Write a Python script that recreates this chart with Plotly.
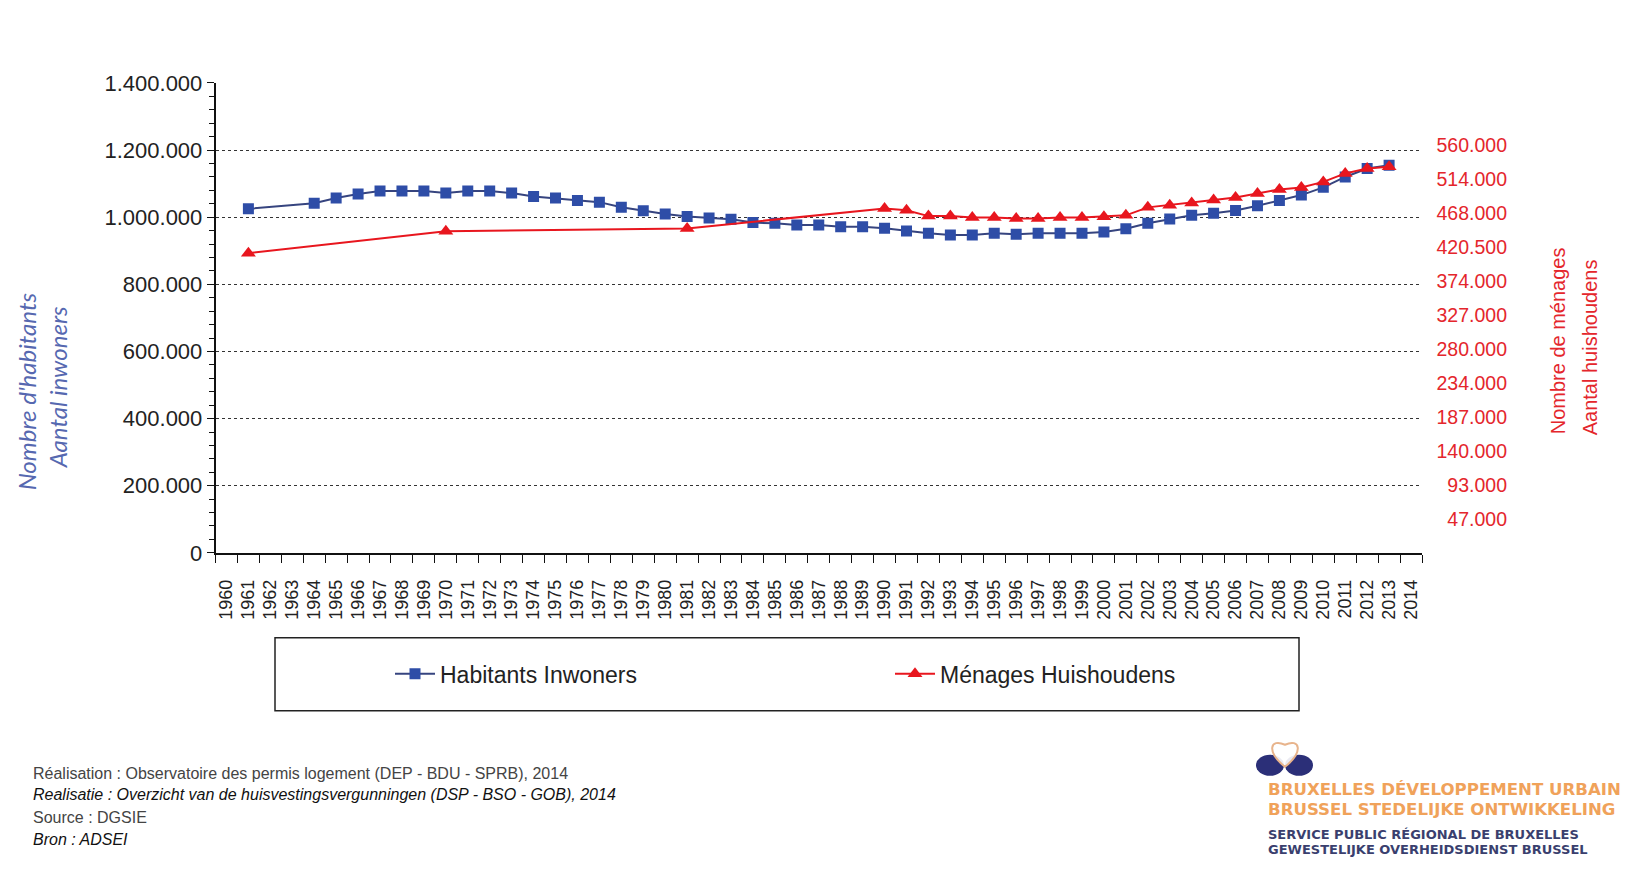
import plotly.graph_objects as go

# The figure sits inside the page body; the page photograph is compressed
# vertically a little, so page-pixel positions are converted with these factors.
OFFX, OFFY, VS = 8, 20.7, 0.970
FW, FH = 1616, 866

years = [str(y) for y in range(1960, 2015)]

hab_years = ["1961", "1964", "1965", "1966", "1967", "1968", "1969", "1970", "1971", "1972",
             "1973", "1974", "1975", "1976", "1977", "1978", "1979", "1980", "1981", "1982",
             "1983", "1984", "1985", "1986", "1987", "1988", "1989", "1990", "1991", "1992",
             "1993", "1994", "1995", "1996", "1997", "1998", "1999", "2000", "2001", "2002",
             "2003", "2004", "2005", "2006", "2007", "2008", "2009", "2010", "2011", "2012", "2013"]
hab_values = [1025000, 1042000, 1057000, 1069000, 1078000, 1078000, 1078000, 1072000, 1078000, 1078000,
              1072000, 1062000, 1057000, 1050000, 1045000, 1030000, 1019000, 1010000, 1002000, 998000,
              994000, 984000, 982000, 977000, 977000, 972000, 972000, 967000, 959000, 952000,
              947000, 947000, 952000, 949000, 952000, 952000, 952000, 956000, 966000, 982000,
              995000, 1006000, 1012000, 1020000, 1034000, 1050000, 1066000, 1089000, 1120000, 1145000, 1155000]

men_years = ["1961", "1970", "1981", "1990", "1991", "1992", "1993", "1994", "1995", "1996",
             "1997", "1998", "1999", "2000", "2001", "2002", "2003", "2004", "2005", "2006",
             "2007", "2008", "2009", "2010", "2011", "2012", "2013"]
men_values = [412000, 442000, 446000, 473500, 471000, 463000, 463000, 461000, 461000, 459700,
              459700, 461000, 461000, 462000, 464000, 475000, 478000, 481000, 485000, 488600,
              494000, 499700, 502400, 510000, 521700, 528600, 530800]

right_tickvals = [46667, 93333, 140000, 186667, 233333, 280000, 326667, 373333, 420000, 466667, 513333, 560000]
right_ticktext = ["47.000", "93.000", "140.000", "187.000", "234.000", "280.000", "327.000",
                  "374.000", "420.500", "468.000", "514.000", "560.000"]

BLUE_LINE = "#36447F"
BLUE_MK = "#2E4DA7"
RED = "#E8161E"
RED_TXT = "#E4262C"


def px(x):
    return (x - OFFX) / FW


def py(y):
    return 1 - (y / VS - OFFY) / FH


fig = go.Figure()
fig.add_trace(go.Scatter(
    x=hab_years, y=hab_values, name="Habitants Inwoners", mode="lines+markers",
    line=dict(color=BLUE_LINE, width=2),
    marker=dict(symbol="square", size=11, color=BLUE_MK, line=dict(width=0)),
    yaxis="y"))
fig.add_trace(go.Scatter(
    x=men_years, y=men_values, name="Ménages Huishoudens", mode="lines+markers",
    line=dict(color=RED, width=2),
    marker=dict(symbol="triangle-up", size=13, color=RED, line=dict(width=0)),
    yaxis="y2"))

x0, x1 = 215.5, 1422
ytop, ybot = 83, 552.3

shapes = [
    dict(type="rect", xref="paper", yref="paper", x0=px(275), x1=px(1299), y0=py(710), y1=py(637),
         fillcolor="rgba(0,0,0,0)", line=dict(color="#222", width=1.5)),
    # logo
    dict(type="circle", xref="paper", yref="paper", x0=px(1256), x1=px(1284), y0=py(775), y1=py(754),
         fillcolor="#2B2F78", line=dict(width=0)),
    dict(type="circle", xref="paper", yref="paper", x0=px(1285), x1=px(1313), y0=py(775), y1=py(754),
         fillcolor="#2B2F78", line=dict(width=0)),
    dict(type="path", xref="paper", yref="paper",
         path=("M {a},{b} C {c},{d} {e},{f} {g},{h} C {i},{j} {k},{l} {a},{b} Z").format(
             a=px(1285), b=py(766), c=px(1266), d=py(751), e=px(1270), f=py(737), g=px(1285), h=py(744),
             i=px(1300), j=py(737), k=px(1304), l=py(751)),
         fillcolor="rgba(255,255,255,0.9)", line=dict(color="#E8B48C", width=2)),
]

annotations = [
    dict(text="Nombre d'habitants", x=px(26), y=py(391), xref="paper", yref="paper", textangle=-90,
         xanchor="center", yanchor="middle", showarrow=False,
         font=dict(family="Lato", size=24, color="#5668B0", style="italic")),
    dict(text="Aantal inwoners", x=px(57), y=py(387), xref="paper", yref="paper", textangle=-90,
         xanchor="center", yanchor="middle", showarrow=False,
         font=dict(family="Lato", size=24, color="#5668B0", style="italic")),
    dict(text="Nombre de ménages", x=px(1558), y=py(341), xref="paper", yref="paper", textangle=-90,
         xanchor="center", yanchor="middle", showarrow=False,
         font=dict(family="Liberation Sans", size=20, color=RED_TXT)),
    dict(text="Aantal huishoudens", x=px(1590), y=py(347), xref="paper", yref="paper", textangle=-90,
         xanchor="center", yanchor="middle", showarrow=False,
         font=dict(family="Liberation Sans", size=20, color=RED_TXT)),
]

footer = [
    ("Réalisation : Observatoire des permis logement (DEP - BDU - SPRB), 2014", 773, "#444444", "normal"),
    ("Realisatie : Overzicht van de huisvestingsvergunningen (DSP - BSO - GOB), 2014", 794, "#111111", "italic"),
    ("Source : DGSIE", 817, "#444444", "normal"),
    ("Bron : ADSEI", 839, "#111111", "italic"),
]
for txt, yy, col, st in footer:
    annotations.append(dict(text=txt, x=px(31), y=py(yy), xref="paper", yref="paper", xanchor="left",
                            yanchor="middle", showarrow=False,
                            font=dict(family="Liberation Sans", size=16, color=col, style=st)))

logo_lines = [
    ("BRUXELLES DÉVELOPPEMENT URBAIN", 789, "#F0A25A", 16.6),
    ("BRUSSEL STEDELIJKE ONTWIKKELING", 809, "#F0A25A", 16.6),
    ("SERVICE PUBLIC RÉGIONAL DE BRUXELLES", 834, "#3A3F6E", 13),
    ("GEWESTELIJKE OVERHEIDSDIENST BRUSSEL", 849, "#3A3F6E", 13),
]
for txt, yy, col, sz in logo_lines:
    annotations.append(dict(text="<b>" + txt + "</b>", x=px(1266), y=py(yy), xref="paper", yref="paper",
                            xanchor="left", yanchor="middle", showarrow=False,
                            font=dict(family="DejaVu Sans", size=sz, color=col)))

fig.update_layout(
    width=FW, height=FH, autosize=False,
    margin=dict(l=0, r=0, t=0, b=0),
    paper_bgcolor="white", plot_bgcolor="white",
    separators=",.",
    font=dict(family="Liberation Sans", color="#222"),
    xaxis=dict(
        type="category", categoryorder="array", categoryarray=years,
        range=[-0.5, len(years) - 0.5],
        domain=[px(x0), px(x1)],
        tickmode="array", tickvals=years, ticktext=years,
        tickangle=-90, tickfont=dict(size=18, color="#222"),
        tickson="boundaries", ticks="outside", ticklen=8, tickcolor="#111",
        ticklabelstandoff=18,
        showline=True, linecolor="#111", linewidth=1.5, showgrid=False,
    ),
    yaxis=dict(
        domain=[py(ybot), py(ytop)],
        range=[0, 1400000], dtick=200000, tick0=0, tickformat=",d",
        tickfont=dict(size=22, color="#222"),
        ticks="outside", ticklen=7, tickcolor="#111",
        minor=dict(dtick=40000, ticks="outside", ticklen=5, tickcolor="#111", showgrid=False),
        showline=True, linecolor="#111", linewidth=1.5,
        showgrid=True, gridcolor="#333", griddash="dot", gridwidth=1,
        zeroline=False,
    ),
    yaxis2=dict(
        overlaying="y", side="left", anchor="free", position=px(1507),
        range=[0, 646000],
        tickmode="array", tickvals=right_tickvals, ticktext=right_ticktext,
        tickfont=dict(size=19.5, color=RED_TXT),
        showgrid=False, showline=False, ticks="", zeroline=False,
    ),
    showlegend=True,
    legend=dict(orientation="h", x=px(390), y=py(673), xanchor="left", yanchor="middle",
                font=dict(size=23, color="#222"), bgcolor="rgba(0,0,0,0)",
                entrywidth=445, entrywidthmode="pixels", itemwidth=40),
    shapes=shapes,
    annotations=annotations,
)

fig.write_html("out.html")
